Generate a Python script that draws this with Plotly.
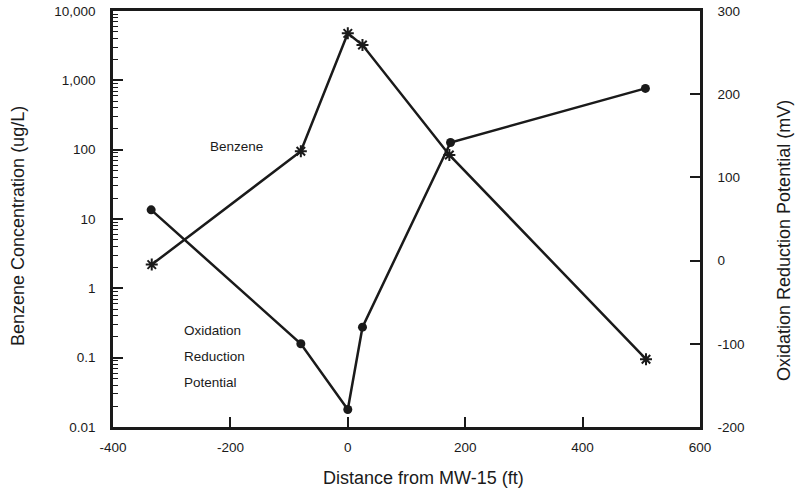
import plotly.graph_objects as go

# Data
benzene_x = [-334, -80, 0, 25, 173, 508]
benzene_ugL = [2.2, 95, 4760, 3230, 84, 0.095]
orp_x = [-335, -80, 0, 25, 175, 507]
orp_mV = [61, -100, -179, -80, 142, 207]

left_tickvals = [0.01, 0.1, 1, 10, 100, 1000, 10000]
left_ticktext = ["0.01", "0.1", "1", "10", "100", "1,000", "10,000"]
x_tickvals = [-400, -200, 0, 200, 400, 600]
x_ticktext = ["-400", "-200", "0", "200", "400", "600"]
right_tickvals = [-200, -100, 0, 100, 200, 300]
right_ticktext = ["-200", "-100", "0", "100", "200", "300"]

FONT = "Liberation Sans, Arial, sans-serif"
ink = "#1a1a1a"

W, H = 795, 494
PL, PR, PT, PB = 113, 700, 11, 427  # plot box in window pixels
PW, PH = PR - PL, PB - PT

fig = go.Figure()
fig.add_trace(go.Scatter(
    x=benzene_x, y=benzene_ugL, mode="lines+markers", yaxis="y",
    line=dict(color=ink, width=2.5),
    marker=dict(symbol="asterisk-open", size=10, color=ink, line=dict(color=ink, width=2)),
    showlegend=False, cliponaxis=False))
fig.add_trace(go.Scatter(
    x=orp_x, y=orp_mV, mode="lines+markers", yaxis="y2",
    line=dict(color=ink, width=2.5),
    marker=dict(symbol="circle", size=9, color=ink),
    showlegend=False, cliponaxis=False))

fig.update_layout(
    width=W, height=H,
    margin=dict(l=PL, r=W - PR, t=PT, b=H - PB, autoexpand=False),
    paper_bgcolor="white", plot_bgcolor="white",
    font=dict(family=FONT, size=13.5, color=ink),
    xaxis=dict(
        range=[-400, 600], tickvals=x_tickvals, ticktext=x_ticktext,
        ticks="inside", ticklen=10, tickwidth=1.5,
        tickcolor=ink, showline=True, linecolor=ink, linewidth=2.5, mirror=True,
        showgrid=False, zeroline=False, ticklabelstandoff=6, automargin=False,
        ticklabeloverflow="allow",
    ),
    yaxis=dict(
        type="log", range=[-2, 4], tickvals=left_tickvals, ticktext=left_ticktext,
        ticks="inside", ticklen=10, tickwidth=1.5, tickcolor=ink,
        minor=dict(ticks="inside", ticklen=5, tickwidth=1, tickcolor=ink, dtick="D1", showgrid=False),
        showline=True, linecolor=ink, linewidth=2.5, showgrid=False, zeroline=False,
        ticklabelstandoff=12, automargin=False, ticklabeloverflow="allow",
    ),
    yaxis2=dict(
        range=[-200, 300], tickvals=right_tickvals, ticktext=right_ticktext,
        overlaying="y", side="right",
        ticks="inside", ticklen=10, tickwidth=1.5, tickcolor=ink,
        showline=True, linecolor=ink, linewidth=2.5, showgrid=False, zeroline=False,
        ticklabelstandoff=12, automargin=False, ticklabeloverflow="allow",
    ),
)

def px(x):
    return (x - PL) / PW

def py(y):
    return 1 - (y - PT) / PH

annots = [
    dict(text="Benzene", x=208, y=147),
    dict(text="Oxidation", x=182, y=330),
    dict(text="Reduction", x=182, y=356),
    dict(text="Potential", x=182, y=382),
]
for a in annots:
    fig.add_annotation(text=a["text"], xref="paper", yref="paper",
                       x=px(a["x"]), y=py(a["y"]),
                       xanchor="left", yanchor="middle", showarrow=False,
                       font=dict(size=13.5, family=FONT, color=ink))

# Axis titles
fig.add_annotation(text="Benzene Concentration (ug/L)", xref="paper", yref="paper",
                   x=px(18), y=py(226), textangle=-90,
                   xanchor="center", yanchor="middle", showarrow=False,
                   font=dict(size=18, family=FONT, color=ink))
fig.add_annotation(text="Oxidation Reduction Potential (mV)", xref="paper", yref="paper",
                   x=px(784), y=py(240), textangle=-90,
                   xanchor="center", yanchor="middle", showarrow=False,
                   font=dict(size=18, family=FONT, color=ink))
fig.add_annotation(text="Distance from MW-15 (ft)", xref="paper", yref="paper",
                   x=px(423), y=py(478),
                   xanchor="center", yanchor="middle", showarrow=False,
                   font=dict(size=18, family=FONT, color=ink))

# remove the default page margin so the figure fills the window exactly
fig.write_html("out.html", config={"displayModeBar": False},
               post_script="document.body.style.margin='0';")
